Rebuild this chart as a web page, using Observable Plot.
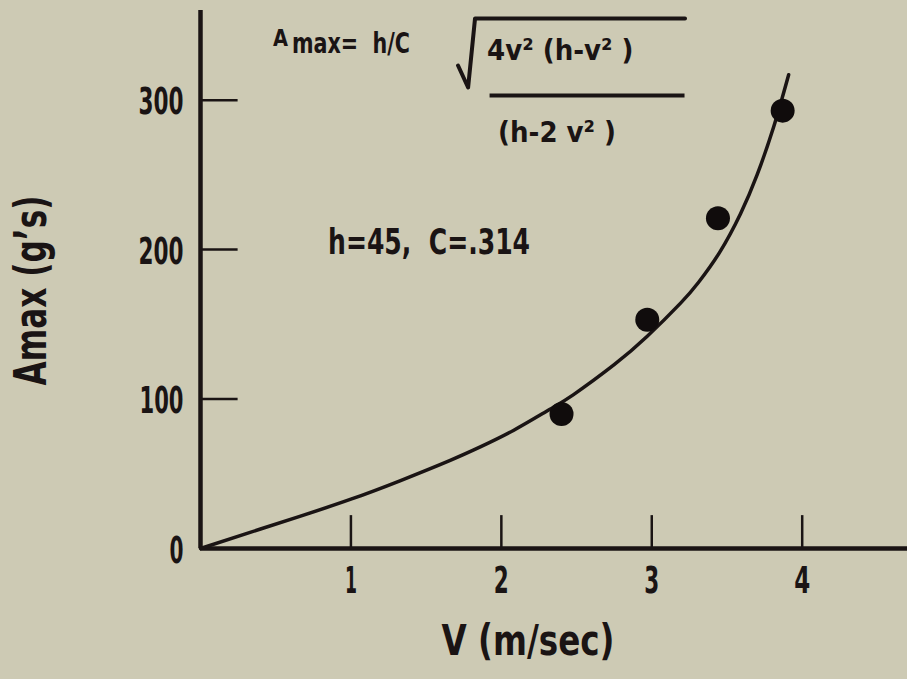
<!DOCTYPE html>
<html><head><meta charset="utf-8">
<script src="https://cdn.jsdelivr.net/npm/d3@7"></script>
<script src="https://cdn.jsdelivr.net/npm/@observablehq/plot@0.6"></script>
<style>
html,body{margin:0;padding:0;background:#cdcab4;}
svg{display:block;}
</style></head><body><div id="chart"></div>
<script>
// Fitted curve
const curveV = [0, 0.33, 0.66, 1.0, 1.33, 1.66, 1.86, 2.08, 2.32, 2.48, 2.75, 2.97, 3.19, 3.31, 3.45, 3.59, 3.70, 3.81, 3.91];
const curveA = [0, 10.8, 21.5, 33, 45.5, 59, 68, 79, 93, 103, 123, 142, 164, 178, 198, 224, 250, 282, 317];
// Measured points
const pointV = [2.40, 2.97, 3.44, 3.87];
const pointA = [90, 153, 221, 293];
// Tick labels
const xTicks = [1, 2, 3, 4];
const yTicks = [0, 100, 200, 300];
const xTitle = "V (m/sec)";
const yTitle = "Amax (g\u2019s)";
const paramText = "h=45,  C=.314";
const formulaA = "A";
const formulaLeft = "max=  h/C";
const formulaNum = "4v\u00b2 (h-v\u00b2 )";
const formulaDen = "(h-2 v\u00b2 )";

const curve = curveV.map((v, i) => ({v, a: curveA[i]}));
const points = pointV.map((v, i) => ({v, a: pointA[i]}));

const F = "'Liberation Sans Narrow','DejaVu Sans Condensed','Arial Narrow',sans-serif";
const INK = "#1a1414";

const chart = Plot.plot({
  width: 907, height: 679,
  marginLeft: 200, marginRight: 0, marginTop: 10, marginBottom: 131,
  x: {domain: [0, 4.7], axis: null},
  y: {domain: [0, 360], axis: null},
  style: {background: "#cdcab4", fontFamily: F, fontWeight: "bold", color: INK},
  marks: [
    // axes
    Plot.ruleX([0], {y1: 0, y2: 360, stroke: INK, strokeWidth: 4.5}),
    Plot.ruleY([0], {stroke: INK, strokeWidth: 4.5}),
    Plot.ruleY(yTicks.filter(d => d > 0), {x1: 0, x2: 0.25, stroke: INK, strokeWidth: 2.5}),
    Plot.ruleX(xTicks, {y1: 0, y2: 22, stroke: INK, strokeWidth: 2.5}),
    Plot.text(yTicks, {x: 0, y: d => d, text: d => String(d), textAnchor: "end", lineAnchor: "middle", dx: -17, dy: 2, fontSize: 38, fill: INK}),
    Plot.text(xTicks, {x: d => d, y: 0, text: d => String(d), lineAnchor: "middle", dy: 32, fontSize: 38, fill: INK}),
    Plot.text([xTitle], {frameAnchor: "bottom", lineAnchor: "middle", textAnchor: "middle", dx: -26, dy: 93, fontSize: 42, fill: INK}),
    Plot.text([yTitle], {frameAnchor: "left", textAnchor: "middle", lineAnchor: "middle", rotate: -90, dx: -169, dy: 11, fontSize: 44, fill: INK}),
    // data
    Plot.line(curve, {x: "v", y: "a", curve: "natural", stroke: INK, strokeWidth: 3.5}),
    Plot.dot(points, {x: "v", y: "a", r: 12, fill: "#100c0c", stroke: null}),
    // formula annotation
    Plot.text([formulaA], {x: 0.482, y: 341.5, textAnchor: "start", lineAnchor: "middle", fontSize: 23, fill: INK}),
    Plot.text([formulaLeft], {x: 0.608, y: 337.5, textAnchor: "start", lineAnchor: "middle", fontSize: 29, fill: INK}),
    Plot.line([[1.712, 323.2], [1.779, 308.5], [1.825, 354.6], [3.221, 354.6]], {stroke: INK, strokeWidth: 4}),
    Plot.text([formulaNum], {x: 1.905, y: 332.8, textAnchor: "start", lineAnchor: "middle", fontSize: 29, fill: INK}),
    Plot.ruleY([303.1], {x1: 1.925, x2: 3.221, stroke: INK, strokeWidth: 4}),
    Plot.text([formulaDen], {x: 1.978, y: 277.9, textAnchor: "start", lineAnchor: "middle", fontSize: 29, fill: INK}),
    Plot.text([paramText], {x: 0.848, y: 205.1, textAnchor: "start", lineAnchor: "middle", fontSize: 36, fill: INK})
  ]
});
document.getElementById("chart").appendChild(chart);

// Condensed lettering: squeeze each label to the width it has in the original
const targetWidth = new Map([
  ["0", 14], ["100", 44], ["200", 45], ["300", 45],
  ["1", 12], ["2", 15], ["3", 15], ["4", 16],
  [xTitle, 173], [yTitle, 190], [paramText, 202],
  [formulaA, 15], [formulaLeft, 118], [formulaNum, 183], [formulaDen, 134]
]);
chart.querySelectorAll("text").forEach(t => {
  const w = t.getComputedTextLength();
  const target = targetWidth.get(t.textContent);
  const len = target != null ? Math.min(target, w) : w * 0.7;
  t.setAttribute("textLength", len);
  t.setAttribute("lengthAdjust", "spacingAndGlyphs");
});
</script>
</body></html>
